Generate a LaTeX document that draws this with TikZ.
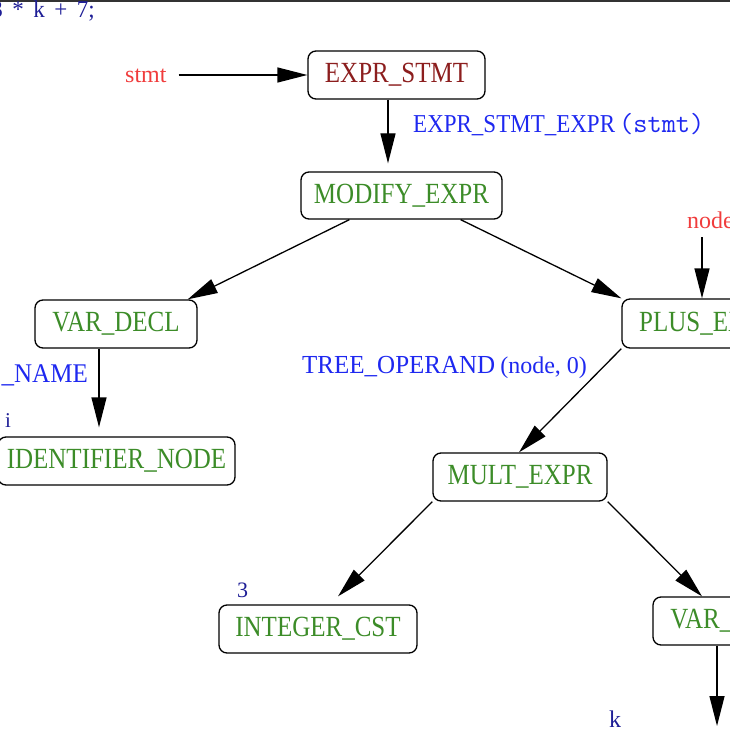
\documentclass[tikz,border=0pt]{standalone}
\usepackage{fontspec}
\usepackage{graphicx}
\setmainfont{Liberation Serif}
\usetikzlibrary{arrows.meta}
\definecolor{exprred}{RGB}{140,30,30}
\definecolor{nodegreen}{RGB}{60,140,40}
\definecolor{lblblue}{RGB}{30,40,240}
\definecolor{codenavy}{RGB}{30,30,150}
\definecolor{lblred}{RGB}{240,60,60}
\newcommand{\tallbox}[2]{\scalebox{1}[#1]{#2}}
\begin{document}
\begin{tikzpicture}[x=1pt,y=-1pt,
  box/.style={draw=black, line width=1.3pt, rounded corners=8pt, inner sep=0pt,
    font=\fontsize{25}{30}\selectfont, text=nodegreen, minimum height=48pt},
  arr/.style={line width=1.3pt, -{Triangle[length=30pt,width=15pt]}},
  lbl/.style={inner sep=0pt, anchor=base west, font=\fontsize{24}{28}\selectfont},
  bluelbl/.style={lbl, text=lblblue},
  redlbl/.style={lbl, text=lblred},
  navylbl/.style={lbl, text=codenavy, font=\fontsize{22}{26}\selectfont}
]
\useasboundingbox (0,0) rectangle (730,730);
\clip (0,0) rectangle (730,730);
\fill[black!80] (0,0) rectangle (730,2);

% code line
\node[navylbl, anchor=base east, font=\fontsize{23}{26}\selectfont] (code) at (95,18)
  {\tallbox{1.05}{\spaceskip=9.5pt 3 * k + 7;}};

% boxes
\node[box, text=exprred, minimum width=177pt] (es) at (396.5,75) {\tallbox{1.17}{EXPR\_STMT}};
\node[box, minimum width=201pt, minimum height=47pt] (mod) at (401.5,195.5) {\tallbox{1.17}{MODIFY\_EXPR}};
\node[box, minimum width=162pt] (vd1) at (116,324) {\tallbox{1.17}{VAR\_DECL}};
\node[box, minimum width=237pt] (ident) at (116.5,461) {\tallbox{1.17}{IDENTIFIER\_NODE}};
\node[box, minimum width=172pt, minimum height=49pt] (plus) at (708,323.5) {\tallbox{1.17}{PLUS\_EXPR}};
\node[box, minimum width=174pt] (mult) at (520,477) {\tallbox{1.17}{MULT\_EXPR}};
\node[box, minimum width=198pt] (icst) at (318,629) {\tallbox{1.17}{INTEGER\_CST}};
\node[box, minimum width=162pt] (vd2) at (734,621) {\tallbox{1.17}{VAR\_DECL}};

% labels
\node[redlbl] (stmtlbl) at (125,83) {stmt};
\node[redlbl] (nodelbl) at (687,228) {node};
\node[bluelbl, font=\fontsize{23}{28}\selectfont] (esexpr) at (413,133)
  {\tallbox{1.12}{EXPR\_STMT\_EXPR}\hspace{4pt}{\ttfamily\fontsize{27.6}{30}\selectfont(stmt)}};
\node[bluelbl, anchor=base east, font=\fontsize{25}{28}\selectfont] (declname) at (88,382) {\tallbox{1.08}{DECL\_NAME}};
\node[bluelbl, font=\fontsize{25}{28}\selectfont] (treeop) at (302,373)
  {\tallbox{1.04}{TREE\_OPERAND}\hspace{5pt}{\fontsize{24}{28}\selectfont(node, 0)}};
\node[navylbl, font=\fontsize{21}{26}\selectfont] (ilbl) at (5,427) {i};
\node[navylbl] (threelbl) at (237,597) {3};
\node[navylbl, font=\fontsize{24}{28}\selectfont] (klbl) at (609,727) {k};

\coordinate (vd2end) at (717,726);

% connectors
\draw[arr] ([xshift=12pt]es.west -| stmtlbl.east) -- (es.west);
\draw[arr] ([xshift=-8.5pt]es.south) -- ([xshift=-13.5pt,yshift=8pt]mod.north);
\draw[arr] ([xshift=49pt]mod.south west) -- ([xshift=-10pt]vd1.north east);
\draw[arr] ([xshift=-42pt]mod.south east) -- (plus.north west);
\draw[arr] ([xshift=15pt,yshift=-9pt]nodelbl.south west) -- ([xshift=-6pt]plus.north);
\draw[arr] (plus.south west) -- ([xshift=-1pt]mult.north);
\draw[arr] (mult.south west) -- ([xshift=20pt,yshift=8pt]icst.north);
\draw[arr] (mult.south east) -- ([xshift=-32pt]vd2.north);
\draw[arr] ([xshift=-17pt]vd1.south) -- ([xshift=-17.5pt,yshift=9pt]ident.north);
\draw[arr] ([xshift=-17pt]vd2.south) -- (vd2end);
\end{tikzpicture}
\end{document}
